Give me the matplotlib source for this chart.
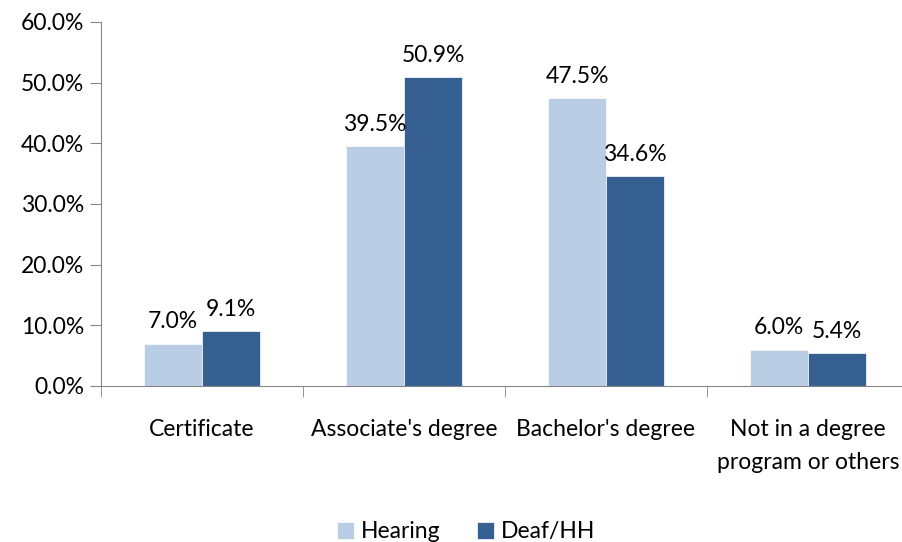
import matplotlib
matplotlib.use("Agg")
import matplotlib.pyplot as plt
import numpy as np

categories = ["Certificate", "Associate's degree", "Bachelor's degree", "Not in a degree\nprogram or others"]
hearing = [7.0, 39.5, 47.5, 6.0]
deaf_hh = [9.1, 50.9, 34.6, 5.4]
series_names = ["Hearing", "Deaf/HH"]
colors = ["#B9CDE5", "#376092"]

plt.rcParams["font.family"] = ["Lato", "DejaVu Sans"]
fs = 16.5

fig = plt.figure(figsize=(9.02, 5.42), dpi=100)
ax = fig.add_axes([101 / 902, 1 - 386 / 542, 808 / 902, 364 / 542])

x = np.arange(len(categories))
w = 0.287
for vals, name, col, off in [(hearing, series_names[0], colors[0], -w / 2),
                             (deaf_hh, series_names[1], colors[1], w / 2)]:
    bars = ax.bar(x + off, vals, w, color=col, label=name, edgecolor="white", linewidth=0.5)
    for b, v in zip(bars, vals):
        ax.annotate("%.1f%%" % v, (b.get_x() + b.get_width() / 2, v), xytext=(0, 8),
                    textcoords="offset points", ha="center", va="bottom", fontsize=fs)

ax.set_xlim(-0.5, len(categories) - 0.5)
ax.set_ylim(0, 60)
ax.set_yticks(np.arange(0, 61, 10))
ax.set_yticklabels(["%.1f%%" % v for v in np.arange(0, 61, 10)], fontsize=fs)
ax.set_xticks(x)
ax.set_xticklabels(categories, fontsize=fs, linespacing=1.7)
ax.set_xticks(np.arange(-0.5, len(categories)), minor=True)
ax.tick_params(axis="x", which="major", length=0, pad=24)
ax.tick_params(axis="x", which="minor", length=8, color="#868686")
ax.tick_params(axis="y", length=8, color="#868686", pad=4)

for s in ["top", "right"]:
    ax.spines[s].set_visible(False)
for s in ["left", "bottom"]:
    ax.spines[s].set_color("#868686")

ax.legend(loc="center", bbox_to_anchor=(0.452, -0.40), ncol=2, frameon=False,
          fontsize=fs, handlelength=0.75, handleheight=0.75, columnspacing=1.6, handletextpad=0.3,
          borderpad=0, borderaxespad=0)

fig.savefig("out.png", dpi=100)
